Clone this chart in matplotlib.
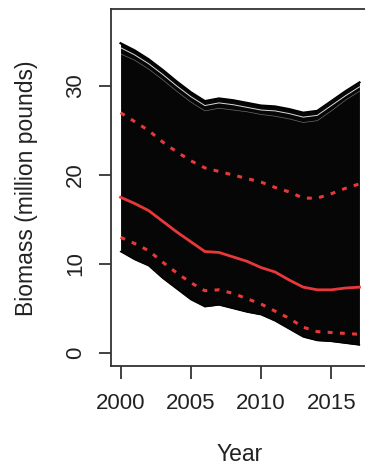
import numpy as np
import matplotlib
matplotlib.use("Agg")
import matplotlib.pyplot as plt

plt.rcParams['font.family'] = ['Liberation Sans', 'DejaVu Sans']

years = np.arange(2000, 2018)

# envelope of the simulated trajectories
upper_env = [34.8, 34.0, 33.0, 31.8, 30.5, 29.3, 28.3, 28.6, 28.4, 28.1,
             27.8, 27.7, 27.4, 27.0, 27.2, 28.3, 29.4, 30.4]
lower_env = [11.4, 10.5, 9.8, 8.4, 7.2, 6.0, 5.2, 5.4, 5.0, 4.6,
             4.3, 3.6, 2.7, 1.8, 1.4, 1.3, 1.1, 0.9]
# gaps between the top-most trajectories
gap_a = [34.3, 33.5, 32.5, 31.3, 30.0, 28.8, 27.8, 28.1, 27.9, 27.6,
         27.3, 27.2, 26.9, 26.5, 26.7, 27.8, 28.9, 29.9]
gap_b = [33.6, 32.9, 31.9, 30.7, 29.4, 28.2, 27.2, 27.5, 27.3, 27.1,
         26.8, 26.6, 26.3, 25.9, 26.1, 27.2, 28.4, 29.4]

median = [17.5, 16.8, 16.0, 14.8, 13.6, 12.5, 11.4, 11.3, 10.8, 10.3,
          9.6, 9.1, 8.2, 7.4, 7.1, 7.1, 7.3, 7.4]
q_upper = [27.0, 26.0, 25.0, 23.7, 22.6, 21.6, 20.8, 20.4, 20.0, 19.6,
           19.2, 18.6, 18.1, 17.4, 17.4, 17.9, 18.5, 19.0]
q_lower = [13.0, 12.3, 11.5, 10.2, 9.0, 7.9, 7.0, 7.1, 6.7, 6.1,
           5.5, 4.7, 3.9, 2.9, 2.4, 2.3, 2.2, 2.1]

fig = plt.figure(figsize=(3.65, 4.65), dpi=100)
ax = fig.add_axes([111 / 365, 99 / 465, 258 / 365, 357 / 465])

ax.fill_between(years, lower_env, upper_env, color='#060606', lw=0)
ax.plot(years, upper_env, color='black', lw=1.6)
ax.plot(years, lower_env, color='black', lw=1.0)
ax.plot(years, gap_a, color='white', lw=0.7, alpha=0.85)
ax.plot(years, gap_b, color='white', lw=0.5, alpha=0.4)

red = '#e8383a'
ax.plot(years, median, color=red, lw=2)
ax.plot(years, q_upper, color=red, lw=2.2, dashes=(1.6, 2.4))
ax.plot(years, q_lower, color=red, lw=2.2, dashes=(1.6, 2.4))

ax.set_xlim(1999.32, 2017.68)
ax.set_ylim(-1.46, 38.65)
ax.set_xticks([2000, 2005, 2010, 2015])
ax.set_yticks([0, 10, 20, 30])

for s in ['left', 'top', 'bottom', 'right']:
    ax.spines[s].set_color('#333333')
    ax.spines[s].set_linewidth(1.3)

ax.tick_params(axis='both', length=9, width=1.3, color='#333333',
               labelsize=16, labelcolor='#222222')
ax.tick_params(axis='x', pad=10.5)
ax.tick_params(axis='y', pad=9)
for lab in ax.get_yticklabels():
    lab.set_rotation(90)
    lab.set_va('center')

fig.text(240 / 365, 1 - 454 / 465, 'Year', fontsize=16.5, color='#222222',
         ha='center', va='center')
fig.text(27 / 365, 1 - 188 / 465, 'Biomass (million pounds)', fontsize=16.5,
         color='#222222', ha='center', va='center', rotation=90)

fig.savefig('out.png', dpi=100)
